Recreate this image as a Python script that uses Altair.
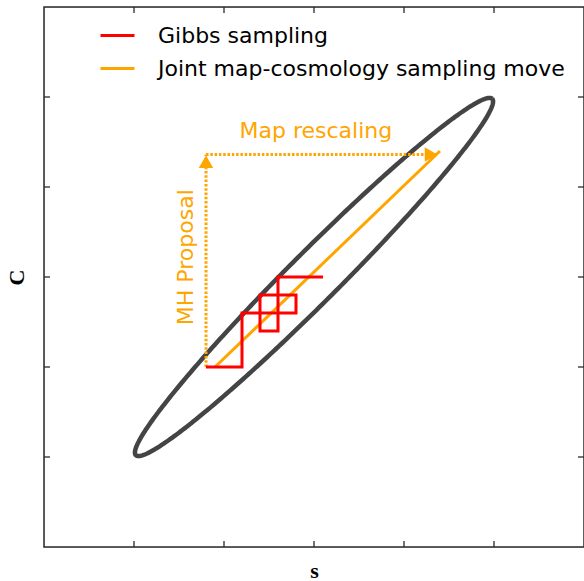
import altair as alt
import numpy as np
import pandas as pd

# Gibbs sampling path (alternating conditional moves)
gibbs_s = [1.8, 2.2, 2.2, 2.8, 2.8, 2.4, 2.4, 2.6, 2.6, 3.1]
gibbs_c = [2.0, 2.0, 2.6, 2.6, 2.8, 2.8, 2.4, 2.4, 3.0, 3.0]

# Joint map-cosmology move
joint_s = [1.9, 4.4]
joint_c = [2.0, 4.4]

# Proposal arrows: MH proposal (vertical) then map rescaling (horizontal)
prop_s = [1.8, 1.8]
prop_c = [2.0, 4.36]
rescale_s = [1.8, 4.38]
rescale_c = [4.36, 4.36]
head_s = [1.8, 4.3]
head_c = [4.28, 4.36]
head_shape = ["triangle-up", "triangle-right"]

# Posterior contour ellipse
ell_center = (3.0, 3.0)
ell_major = 2.8
ell_minor = 0.28

tick_vals = [1, 2, 3, 4, 5]
W = H = 540
ORANGE = "#ffa500"
FRAME = "#2a2a2a"

t = np.linspace(0, 2 * np.pi, 361)
u = ell_major * np.cos(t)
v = ell_minor * np.sin(t)
ell = pd.DataFrame({
    "s": ell_center[0] + (u - v) / np.sqrt(2),
    "c": ell_center[1] + (u + v) / np.sqrt(2),
    "i": np.arange(len(t)),
})

xs = alt.Scale(domain=[0, 6], nice=False, zero=False)
ys = alt.Scale(domain=[0, 6], nice=False, zero=False)
xax = alt.Axis(title="s", labels=False, ticks=False, grid=False, domain=False,
               titleFont="Liberation Serif", titleFontWeight="bold",
               titleFontSize=22, titleColor="black", titlePadding=13)
yax = alt.Axis(title="C", labels=False, ticks=False, grid=False, domain=False,
               titleFont="Liberation Serif", titleFontWeight="bold",
               titleFontSize=22, titleColor="black", titlePadding=16)

ellipse = alt.Chart(ell).mark_line(color="#444444", strokeWidth=4.5).encode(
    x=alt.X("s:Q", scale=xs, axis=xax),
    y=alt.Y("c:Q", scale=ys, axis=yax),
    order="i:Q",
)

series = ["Gibbs sampling", "Joint map-cosmology sampling move"]
color = alt.Color(
    "series:N",
    scale=alt.Scale(domain=series, range=["#ff0000", ORANGE]),
    legend=alt.Legend(title=None, orient="none", legendX=55, legendY=10,
                      symbolType="stroke", symbolSize=1156, symbolStrokeWidth=3,
                      labelFontSize=22, labelFont="DejaVu Sans", labelColor="black",
                      labelOffset=22, rowPadding=3, labelLimit=500),
)

gibbs = pd.DataFrame({"s": gibbs_s, "c": gibbs_c, "i": range(len(gibbs_s)),
                      "series": series[0]})
joint = pd.DataFrame({"s": joint_s, "c": joint_c, "i": range(len(joint_s)),
                      "series": series[1]})

gibbs_line = alt.Chart(gibbs).mark_line(strokeWidth=3, strokeJoin="miter").encode(
    x=alt.X("s:Q", scale=xs), y=alt.Y("c:Q", scale=ys), order="i:Q", color=color)
joint_line = alt.Chart(joint).mark_line(strokeWidth=3).encode(
    x=alt.X("s:Q", scale=xs), y=alt.Y("c:Q", scale=ys), order="i:Q", color=color)

prop = pd.DataFrame({"s": prop_s, "c": prop_c, "i": [0, 1]})
resc = pd.DataFrame({"s": rescale_s, "c": rescale_c, "i": [0, 1]})
dotted = dict(color=ORANGE, strokeWidth=3, strokeDash=[2.5, 1.8])
prop_line = alt.Chart(prop).mark_line(**dotted).encode(
    x=alt.X("s:Q", scale=xs), y=alt.Y("c:Q", scale=ys), order="i:Q")
resc_line = alt.Chart(resc).mark_line(**dotted).encode(
    x=alt.X("s:Q", scale=xs), y=alt.Y("c:Q", scale=ys), order="i:Q")

heads = pd.DataFrame({"s": head_s, "c": head_c, "shape": head_shape})
head_marks = alt.Chart(heads).mark_point(filled=True, opacity=1, color=ORANGE, size=210).encode(
    x=alt.X("s:Q", scale=xs), y=alt.Y("c:Q", scale=ys),
    shape=alt.Shape("shape:N", scale=None, legend=None))

labels = pd.DataFrame({"s": [3.02, 1.58], "c": [4.62, 3.22],
                       "txt": ["Map rescaling", "MH Proposal"]})
map_text = alt.Chart(labels.iloc[[0]]).mark_text(
    color=ORANGE, fontSize=22, font="DejaVu Sans", align="center", baseline="middle").encode(
    x=alt.X("s:Q", scale=xs), y=alt.Y("c:Q", scale=ys), text="txt:N")
mh_text = alt.Chart(labels.iloc[[1]]).mark_text(
    color=ORANGE, fontSize=22, font="DejaVu Sans", align="center", baseline="middle",
    angle=270).encode(
    x=alt.X("s:Q", scale=xs), y=alt.Y("c:Q", scale=ys), text="txt:N")

# Inward-pointing tick marks on all four sides
tk = pd.DataFrame({"v": tick_vals})
tick_style = dict(color=FRAME, strokeWidth=1.3)
bottom_t = alt.Chart(tk).mark_rule(**tick_style).encode(
    x=alt.X("v:Q", scale=xs), y=alt.value(H), y2=alt.value(H - 6))
top_t = alt.Chart(tk).mark_rule(**tick_style).encode(
    x=alt.X("v:Q", scale=xs), y=alt.value(0), y2=alt.value(6))
left_t = alt.Chart(tk).mark_rule(**tick_style).encode(
    y=alt.Y("v:Q", scale=ys), x=alt.value(0), x2=alt.value(6))
right_t = alt.Chart(tk).mark_rule(**tick_style).encode(
    y=alt.Y("v:Q", scale=ys), x=alt.value(W), x2=alt.value(W - 6))

# Plot frame
frame = alt.Chart(pd.DataFrame({"k": [0]})).mark_rect(
    fill=None, stroke=FRAME, strokeWidth=1.5).encode(
    x=alt.value(0), x2=alt.value(W), y=alt.value(0), y2=alt.value(H))

chart = alt.layer(
    ellipse, prop_line, resc_line, head_marks, joint_line, gibbs_line,
    map_text, mh_text, bottom_t, top_t, left_t, right_t, frame,
).properties(
    width=W, height=H,
    autosize=alt.AutoSizeParams(type="none"),
    padding={"left": 44, "top": 7, "right": 0, "bottom": 34},
).configure_view(
    stroke=None,
).configure(background="white")

chart.save("out.html", embed_options={"renderer": "svg", "actions": False})
